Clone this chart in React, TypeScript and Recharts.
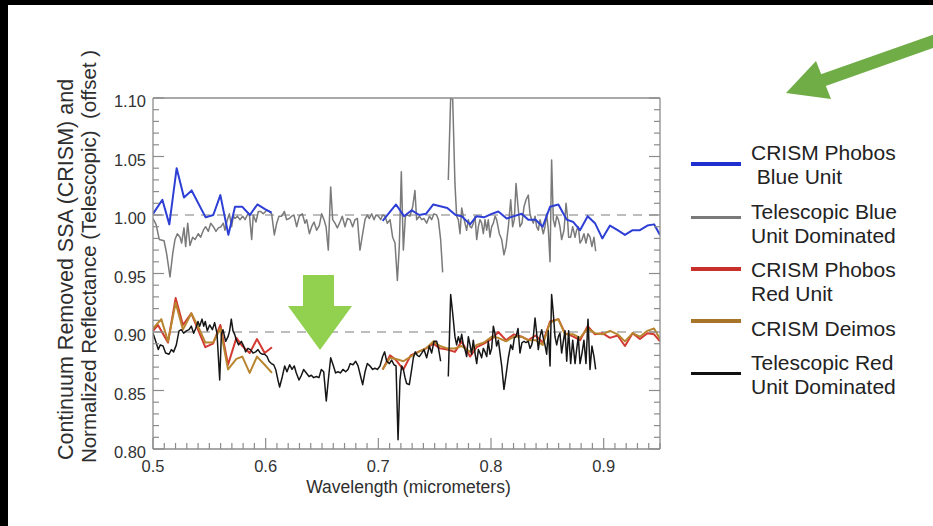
import { Line, LineChart, ReferenceLine, XAxis, YAxis } from "recharts";

const FONT = '"Liberation Sans", Arial, Helvetica, sans-serif';
const AXIS = "#8c8c8c";

type Pt = [number, number | null];

// CRISM Phobos blue unit (two spectral segments)
const crismBlue: Pt[] = [
  [0.5, 1.001], [0.5083, 1.013], [0.5145, 0.992], [0.521, 1.04], [0.5275, 1.015], [0.5343, 1.021],
  [0.5467, 0.998], [0.5535, 1.0], [0.5598, 1.017], [0.5669, 0.983], [0.5728, 1.007], [0.5793, 1.007],
  [0.586, 1.0], [0.5926, 1.009], [0.5994, 1.005], [0.6053, 1.002],
  [0.65, null],
  [0.7038, 0.995], [0.7157, 1.009], [0.7228, 0.999], [0.7296, 1.004], [0.7364, 1.0], [0.7423, 1.001],
  [0.7488, 1.009], [0.7612, 1.006], [0.7686, 1.0], [0.774, 0.999], [0.7814, 0.992], [0.7873, 0.999],
  [0.7938, 0.998], [0.8006, 1.001], [0.8065, 1.003], [0.8139, 0.997], [0.8204, 0.999], [0.8272, 1.001],
  [0.8331, 0.996], [0.8396, 0.996], [0.8459, 0.99], [0.8524, 1.007], [0.8598, 1.009], [0.8672, 0.996],
  [0.8731, 0.994], [0.879, 0.987], [0.8858, 0.999], [0.8923, 0.993], [0.8988, 0.98], [0.9056, 0.991],
  [0.9124, 0.987], [0.9189, 0.983], [0.9257, 0.987], [0.9322, 0.987], [0.9388, 0.991], [0.9447, 0.992],
  [0.95, 0.983],
];

// Telescopic blue unit dominated
const teleBlue: Pt[] = [
  [0.5, 0.997], [0.5027, 0.992], [0.5056, 0.979], [0.5098, 0.978], [0.5121, 0.967], [0.5151, 0.947],
  [0.5175, 0.967], [0.5195, 0.979], [0.5216, 0.984], [0.524, 0.981], [0.5254, 0.976], [0.5275, 0.989],
  [0.529, 0.973], [0.5308, 0.993], [0.5328, 0.974], [0.5352, 0.981], [0.5373, 0.979], [0.5402, 0.984],
  [0.5423, 0.981], [0.5447, 0.987], [0.5467, 0.99], [0.5491, 0.986], [0.5512, 0.993], [0.5536, 0.99],
  [0.5559, 0.986], [0.558, 0.989], [0.5604, 0.99], [0.5624, 0.993], [0.5639, 0.987], [0.566, 0.996],
  [0.5678, 1.001], [0.5698, 0.99], [0.5713, 0.999], [0.5728, 0.997], [0.5749, 0.999], [0.5772, 0.996],
  [0.5796, 0.999], [0.5817, 0.996], [0.5837, 1.0], [0.5855, 1.001], [0.5876, 0.979], [0.589, 1.0],
  [0.5914, 0.994], [0.5935, 1.003], [0.5956, 1.003], [0.5979, 1.001], [0.6009, 1.004], [0.6033, 1.003],
  [0.6053, 1.001], [0.6077, 0.983], [0.6098, 0.993], [0.6118, 0.999], [0.6142, 0.999], [0.6166, 1.003],
  [0.6186, 0.996], [0.621, 0.997], [0.6231, 0.999], [0.6251, 1.0], [0.6275, 0.99], [0.6299, 0.999],
  [0.6325, 1.001], [0.6349, 0.993], [0.6364, 0.996], [0.6388, 0.984], [0.6408, 0.99], [0.6429, 0.994],
  [0.6453, 0.987], [0.6476, 0.991], [0.6497, 1.001], [0.6518, 0.996], [0.6536, 0.99], [0.6556, 0.97],
  [0.6577, 1.024], [0.6595, 0.996], [0.6615, 0.993], [0.6636, 0.989], [0.666, 0.994], [0.668, 0.999],
  [0.6704, 0.99], [0.6725, 0.997], [0.6749, 0.996], [0.6772, 0.99], [0.6793, 0.996], [0.6814, 0.997],
  [0.6837, 0.97], [0.6861, 0.984], [0.6882, 0.996], [0.6902, 1.0], [0.692, 0.997], [0.6941, 1.001],
  [0.6962, 0.996], [0.6979, 1.0], [0.7, 0.999], [0.7021, 0.996], [0.7038, 1.0], [0.7059, 0.999],
  [0.708, 0.993], [0.7104, 0.996], [0.7127, 0.981], [0.7148, 0.976], [0.7169, 0.944], [0.7186, 0.973],
  [0.7204, 1.037], [0.7222, 0.97], [0.724, 0.999], [0.7257, 1.0], [0.7281, 0.999], [0.7305, 1.007],
  [0.7325, 1.021], [0.734, 0.996], [0.7364, 0.999], [0.7385, 0.996], [0.7405, 0.997], [0.7429, 0.993],
  [0.7453, 0.999], [0.7473, 0.996], [0.7494, 1.001], [0.7518, 1.0], [0.7533, 0.996], [0.7553, 0.979],
  [0.7571, 0.951],
  [0.76, null],
  [0.7621, 1.03], [0.7642, 1.1], [0.766, 1.099], [0.768, 1.027], [0.7695, 0.999], [0.771, 0.996],
  [0.7725, 0.984], [0.774, 1.006], [0.7754, 0.999], [0.7769, 0.993], [0.7784, 0.987], [0.7799, 0.996],
  [0.7814, 0.99], [0.7828, 0.989], [0.7843, 0.993], [0.7858, 0.999], [0.7873, 0.979], [0.7888, 0.99],
  [0.7902, 0.996], [0.7917, 0.993], [0.7932, 0.984], [0.7947, 0.996], [0.7962, 0.987], [0.7976, 0.996],
  [0.7991, 0.981], [0.8006, 0.99], [0.8021, 0.993], [0.8036, 0.999], [0.805, 0.996], [0.8074, 0.984],
  [0.8095, 0.979], [0.8115, 0.966], [0.8133, 0.973], [0.8154, 0.99], [0.8175, 1.013], [0.8192, 0.99],
  [0.8207, 0.996], [0.8222, 1.027], [0.824, 1.007], [0.8257, 0.99], [0.8275, 0.993], [0.8293, 1.007],
  [0.8311, 1.013], [0.8331, 1.017], [0.8346, 1.001], [0.8361, 0.996], [0.8376, 0.993], [0.8391, 0.999],
  [0.8405, 0.99], [0.842, 0.987], [0.8435, 0.996], [0.845, 0.99], [0.8464, 0.984], [0.8479, 0.99],
  [0.8494, 1.001], [0.8509, 0.987], [0.8524, 0.96], [0.8538, 1.047], [0.8553, 0.996], [0.8568, 0.99],
  [0.8583, 0.999], [0.8598, 0.996], [0.8612, 0.99], [0.8627, 0.979], [0.8648, 0.987], [0.8666, 1.01],
  [0.8678, 0.999], [0.8689, 0.981], [0.8707, 0.981], [0.8725, 0.99], [0.8746, 0.981], [0.876, 0.987],
  [0.8775, 0.99], [0.879, 0.976], [0.8808, 0.979], [0.8825, 0.984], [0.8843, 0.976], [0.8861, 0.984],
  [0.8879, 0.981], [0.8896, 0.973], [0.8914, 0.981], [0.8929, 0.969],
];

// CRISM Phobos red unit
const crismRed: Pt[] = [
  [0.5, 0.901], [0.5044, 0.906], [0.5133, 0.891], [0.5201, 0.929], [0.5266, 0.906], [0.534, 0.916],
  [0.5464, 0.887], [0.5533, 0.89], [0.5598, 0.906], [0.5666, 0.872], [0.574, 0.895], [0.5793, 0.888],
  [0.5858, 0.882], [0.5923, 0.894], [0.5991, 0.882], [0.6056, 0.887],
  [0.65, null],
  [0.7038, 0.868], [0.7104, 0.88], [0.7157, 0.876], [0.7222, 0.868], [0.7287, 0.88], [0.7355, 0.883],
  [0.7423, 0.886], [0.7488, 0.89], [0.7547, 0.886], [0.7612, 0.885], [0.768, 0.883], [0.774, 0.892],
  [0.7814, 0.879], [0.7873, 0.887], [0.7938, 0.89], [0.8006, 0.894], [0.8065, 0.9], [0.8133, 0.893],
  [0.8204, 0.898], [0.8272, 0.896], [0.8331, 0.893], [0.8396, 0.897], [0.8459, 0.891], [0.8524, 0.909],
  [0.8598, 0.911], [0.8657, 0.899], [0.8731, 0.896], [0.879, 0.893], [0.8858, 0.905], [0.8923, 0.898],
  [0.8988, 0.899], [0.9056, 0.895], [0.9124, 0.897], [0.9189, 0.888], [0.9257, 0.899], [0.9322, 0.894],
  [0.9388, 0.899], [0.9447, 0.898], [0.95, 0.892],
];

// CRISM Deimos
const crismDeimos: Pt[] = [
  [0.5, 0.903], [0.5074, 0.911], [0.5133, 0.892], [0.5201, 0.925], [0.5266, 0.902], [0.534, 0.916],
  [0.5408, 0.903], [0.5464, 0.891], [0.5533, 0.891], [0.5598, 0.903], [0.5666, 0.868], [0.574, 0.877],
  [0.5793, 0.879], [0.5858, 0.865], [0.5923, 0.879], [0.5991, 0.872], [0.6056, 0.865],
  [0.65, null],
  [0.7038, 0.868], [0.7104, 0.878], [0.7157, 0.877], [0.7222, 0.875], [0.7287, 0.879], [0.7355, 0.883],
  [0.7423, 0.886], [0.7488, 0.892], [0.7547, 0.888], [0.7612, 0.886], [0.768, 0.886], [0.774, 0.888],
  [0.7814, 0.883], [0.7873, 0.889], [0.7938, 0.891], [0.8006, 0.896], [0.8065, 0.895], [0.8133, 0.892],
  [0.8204, 0.896], [0.8272, 0.896], [0.8331, 0.893], [0.8396, 0.893], [0.8459, 0.889], [0.8524, 0.908],
  [0.8598, 0.911], [0.8657, 0.898], [0.8731, 0.898], [0.879, 0.895], [0.8858, 0.903], [0.8923, 0.899],
  [0.8988, 0.898], [0.9056, 0.901], [0.9124, 0.898], [0.9189, 0.892], [0.9257, 0.899], [0.9322, 0.896],
  [0.9388, 0.901], [0.9447, 0.903], [0.95, 0.894],
];

// Telescopic red unit dominated
const teleRed: Pt[] = [
  [0.5, 0.899], [0.5024, 0.892], [0.5047, 0.885], [0.5065, 0.889], [0.5089, 0.888], [0.5112, 0.882],
  [0.5142, 0.881], [0.5163, 0.885], [0.5183, 0.883], [0.5207, 0.889], [0.5231, 0.901], [0.5251, 0.902],
  [0.5272, 0.899], [0.5296, 0.901], [0.532, 0.902], [0.534, 0.905], [0.5361, 0.899], [0.5379, 0.903],
  [0.5399, 0.909], [0.5414, 0.905], [0.5435, 0.911], [0.545, 0.905], [0.5464, 0.909], [0.5482, 0.901],
  [0.5503, 0.906], [0.5527, 0.902], [0.5547, 0.908], [0.5568, 0.899], [0.5592, 0.859], [0.5607, 0.898],
  [0.5621, 0.902], [0.5645, 0.892], [0.5666, 0.896], [0.568, 0.901], [0.5695, 0.911], [0.571, 0.901],
  [0.5725, 0.898], [0.574, 0.893], [0.576, 0.889], [0.5784, 0.892], [0.5805, 0.888], [0.5822, 0.883],
  [0.5843, 0.886], [0.5864, 0.885], [0.5888, 0.882], [0.5911, 0.883], [0.5932, 0.885], [0.5953, 0.882],
  [0.597, 0.881], [0.5991, 0.881], [0.6012, 0.879], [0.603, 0.875], [0.605, 0.873], [0.6071, 0.872],
  [0.6089, 0.868], [0.6109, 0.859], [0.6124, 0.853], [0.6148, 0.862], [0.6169, 0.871], [0.6189, 0.866],
  [0.6213, 0.872], [0.6234, 0.868], [0.6254, 0.871], [0.6272, 0.865], [0.6296, 0.859], [0.6317, 0.863],
  [0.6337, 0.868], [0.6361, 0.865], [0.6385, 0.862], [0.6405, 0.863], [0.6426, 0.861], [0.645, 0.862],
  [0.6473, 0.861], [0.6494, 0.868], [0.6515, 0.866], [0.6538, 0.841], [0.6556, 0.859], [0.6577, 0.878],
  [0.6598, 0.872], [0.6621, 0.865], [0.6642, 0.866], [0.6663, 0.865], [0.6686, 0.868], [0.671, 0.866],
  [0.6731, 0.868], [0.6751, 0.873], [0.6775, 0.872], [0.6799, 0.875], [0.682, 0.871], [0.6843, 0.862],
  [0.6861, 0.855], [0.6882, 0.866], [0.6902, 0.873], [0.6926, 0.871], [0.695, 0.868], [0.697, 0.869],
  [0.6991, 0.868], [0.7015, 0.871], [0.7038, 0.879], [0.7056, 0.883], [0.7074, 0.875], [0.7098, 0.873],
  [0.7118, 0.876], [0.7139, 0.872], [0.7157, 0.871], [0.7175, 0.808], [0.7192, 0.859], [0.7207, 0.871],
  [0.7222, 0.868], [0.7237, 0.861], [0.7251, 0.856], [0.7275, 0.855], [0.7296, 0.868], [0.7311, 0.878],
  [0.7328, 0.883], [0.7346, 0.88], [0.7364, 0.879], [0.7385, 0.882], [0.7405, 0.885], [0.7429, 0.878],
  [0.7453, 0.888], [0.7473, 0.882], [0.7494, 0.892], [0.7518, 0.892], [0.7536, 0.885], [0.7553, 0.875],
  [0.76, null],
  [0.7621, 0.862], [0.7642, 0.932], [0.766, 0.916], [0.768, 0.896], [0.7695, 0.889], [0.771, 0.896],
  [0.7725, 0.891], [0.774, 0.898], [0.7754, 0.889], [0.7769, 0.885], [0.7784, 0.879], [0.7799, 0.896],
  [0.7814, 0.889], [0.7828, 0.881], [0.7843, 0.893], [0.7858, 0.882], [0.7873, 0.873], [0.7888, 0.885],
  [0.7902, 0.882], [0.7917, 0.878], [0.7932, 0.886], [0.7947, 0.883], [0.7962, 0.879], [0.7976, 0.892],
  [0.7991, 0.881], [0.8006, 0.886], [0.8021, 0.905], [0.8036, 0.898], [0.805, 0.888], [0.8065, 0.893],
  [0.808, 0.882], [0.8095, 0.871], [0.8115, 0.851], [0.8133, 0.863], [0.8154, 0.878], [0.8175, 0.889],
  [0.8192, 0.885], [0.8207, 0.895], [0.8222, 0.896], [0.824, 0.903], [0.8257, 0.882], [0.8275, 0.891],
  [0.8293, 0.892], [0.8311, 0.891], [0.8331, 0.892], [0.8346, 0.886], [0.8361, 0.889], [0.8376, 0.896],
  [0.8391, 0.912], [0.8405, 0.899], [0.842, 0.885], [0.8435, 0.896], [0.845, 0.902], [0.8464, 0.895],
  [0.8479, 0.889], [0.8494, 0.881], [0.8509, 0.901], [0.8524, 0.871], [0.8538, 0.932], [0.8553, 0.916],
  [0.8568, 0.896], [0.8583, 0.889], [0.8598, 0.896], [0.8612, 0.899], [0.8627, 0.882], [0.8642, 0.892],
  [0.8657, 0.901], [0.8672, 0.875], [0.8689, 0.901], [0.8707, 0.873], [0.8725, 0.893], [0.8746, 0.873],
  [0.876, 0.885], [0.8775, 0.896], [0.879, 0.873], [0.8808, 0.882], [0.8825, 0.893], [0.8843, 0.873],
  [0.8861, 0.911], [0.8879, 0.868], [0.8896, 0.888], [0.8914, 0.879], [0.8929, 0.868],
];

// tick positions every 0.01, labelled at 0.1 (x) / 0.05 (y)
const xTicks = Array.from({ length: 46 }, (_, i) => +(0.5 + i * 0.01).toFixed(2));
const yTicks = Array.from({ length: 31 }, (_, i) => +(0.8 + i * 0.01).toFixed(2));
const offsetLevels = [1.0, 0.9];

const rows = (pts: Pt[]) => pts.map(([w, v]) => ({ w, v }));
const isMajor = (v: number, step: number) => Math.abs(v / step - Math.round(v / step)) < 1e-6;

// drawn back to front
const drawOrder = [
  { key: "teleBlue", data: teleBlue, color: "#7a7a7a", width: 1.5 },
  { key: "crismBlue", data: crismBlue, color: "#2e3fd6", width: 2 },
  { key: "crismRed", data: crismRed, color: "#d23a32", width: 2 },
  { key: "crismDeimos", data: crismDeimos, color: "#b8862f", width: 2 },
  { key: "teleRed", data: teleRed, color: "#161616", width: 1.5 },
];

const legend = [
  { lines: ["CRISM Phobos", " Blue Unit"], textY: [153, 177], lineY: 164, color: "#1f2fd0", width: 4.5 },
  { lines: ["Telescopic Blue", "Unit Dominated"], textY: [212, 236], lineY: 217, color: "#7a7a7a", width: 3 },
  { lines: ["CRISM Phobos", "Red Unit"], textY: [270, 294], lineY: 269, color: "#c8302c", width: 4.5 },
  { lines: ["CRISM Deimos"], textY: [329], lineY: 321, color: "#a8742a", width: 4.5 },
  { lines: ["Telescopic Red", "Unit Dominated"], textY: [363, 387], lineY: 373, color: "#111111", width: 3 },
];

// tick renderers: x/y passed in sit on the frame because tickSize and tickMargin are 0
function BottomTick({ x, y, payload }: any) {
  const major = isMajor(payload.value, 0.1);
  return (
    <g>
      <line x1={x} x2={x} y1={y} y2={y - (major ? 11 : 6)} stroke={AXIS} strokeWidth={1.2} />
      {major && (
        <text x={x} y={y + 23} textAnchor="middle" fontSize={16.5} fill="#333" fontFamily={FONT}>
          {payload.value.toFixed(1)}
        </text>
      )}
    </g>
  );
}

function TopTick({ x, y, payload }: any) {
  const major = isMajor(payload.value, 0.1);
  return <line x1={x} x2={x} y1={y} y2={y + (major ? 11 : 6)} stroke={AXIS} strokeWidth={1.2} />;
}

function LeftTick({ x, y, payload }: any) {
  const major = isMajor(payload.value, 0.05);
  return (
    <g>
      <line x1={x} x2={x + (major ? 11 : 6)} y1={y} y2={y} stroke={AXIS} strokeWidth={1.2} />
      {major && (
        <text x={x - 7} y={y + 9} textAnchor="end" fontSize={16.5} fill="#333" fontFamily={FONT}>
          {payload.value.toFixed(2)}
        </text>
      )}
    </g>
  );
}

function RightTick({ x, y, payload }: any) {
  const major = isMajor(payload.value, 0.05);
  return <line x1={x} x2={x - (major ? 11 : 6)} y1={y} y2={y} stroke={AXIS} strokeWidth={1.2} />;
}

function YLabel(props: any) {
  const vb = props.viewBox || { x: 93, y: 98, width: 60, height: 351 };
  const left = vb.x + vb.width;
  const x1 = left - 87;
  const x2 = left - 65;
  const y1 = vb.y + vb.height / 2 - 4;
  const y2 = vb.y + vb.height / 2 - 17;
  return (
    <g fontFamily={FONT} fill="#2e2e2e">
      <text x={x1} y={y1} fontSize={21.5} transform={`rotate(-90 ${x1} ${y1})`} textAnchor="middle" dominantBaseline="central">
        Continuum Removed SSA (CRISM) and
      </text>
      <text x={x2} y={y2} fontSize={20.5} transform={`rotate(-90 ${x2} ${y2})`} textAnchor="middle" dominantBaseline="central" style={{ whiteSpace: "pre" }}>
        Normalized Reflectance (Telescopic)  (offset )
      </text>
    </g>
  );
}

function XLabel(props: any) {
  const vb = props.viewBox || { x: 153, y: 449, width: 507, height: 30 };
  return (
    <text x={vb.x + vb.width / 2 + 2} y={vb.y + 44} textAnchor="middle" fontSize={17.5} fill="#2e2e2e" fontFamily={FONT}>
      Wavelength (micrometers)
    </text>
  );
}

export default function App() {
  return (
    <div style={{ position: "absolute", left: 0, top: 0, width: 933, height: 526, background: "#fff", overflow: "hidden", fontFamily: FONT }}>
      <LineChart width={933} height={526} margin={{ top: 97, right: 272, bottom: 47, left: 93 }}>
        <XAxis
          xAxisId="b"
          type="number"
          dataKey="w"
          domain={[0.5, 0.95]}
          ticks={xTicks}
          interval={0}
          height={30}
          tickSize={0}
          tickMargin={0}
          tickLine={false}
          tick={<BottomTick />}
          stroke={AXIS}
          strokeWidth={1.3}
          allowDataOverflow
          label={{ content: XLabel }}
        />
        <XAxis xAxisId="t" orientation="top" type="number" domain={[0.5, 0.95]} ticks={xTicks} interval={0} height={1} tickSize={0} tickMargin={0} tickLine={false} tick={<TopTick />} stroke={AXIS} strokeWidth={1.3} allowDataOverflow />
        <YAxis
          yAxisId="l"
          type="number"
          domain={[0.8, 1.1]}
          ticks={yTicks}
          interval={0}
          width={60}
          tickSize={0}
          tickMargin={0}
          tickLine={false}
          tick={<LeftTick />}
          stroke={AXIS}
          strokeWidth={1.3}
          allowDataOverflow
          label={{ content: YLabel }}
        />
        <YAxis yAxisId="r" orientation="right" type="number" domain={[0.8, 1.1]} ticks={yTicks} interval={0} width={1} tickSize={0} tickMargin={0} tickLine={false} tick={<RightTick />} stroke={AXIS} strokeWidth={1.3} allowDataOverflow />

        {offsetLevels.map((y) => (
          <ReferenceLine key={y} xAxisId="b" yAxisId="l" y={y} stroke="#a8a8a8" strokeWidth={1.5} strokeDasharray="9 7" />
        ))}

        {drawOrder.map((s) => (
          <Line
            key={s.key}
            xAxisId="b"
            yAxisId="l"
            data={rows(s.data)}
            dataKey="v"
            type="linear"
            stroke={s.color}
            strokeWidth={s.width}
            strokeLinejoin="round"
            dot={false}
            activeDot={false}
            connectNulls={false}
            isAnimationActive={false}
          />
        ))}
      </LineChart>

      {/* legend */}
      {legend.map((item, i) => (
        <div key={i}>
          <div style={{ position: "absolute", left: 691, width: 50, top: item.lineY - item.width / 2, height: item.width, background: item.color }} />
          {item.lines.map((t, j) => (
            <div key={j} style={{ position: "absolute", left: 751, top: item.textY[j] - 12, height: 24, lineHeight: "24px", fontSize: 21, color: "#222", whiteSpace: "pre" }}>
              {t}
            </div>
          ))}
        </div>
      ))}

      {/* green annotation arrows */}
      <svg width={933} height={526} style={{ position: "absolute", left: 0, top: 0, pointerEvents: "none" }}>
        <line x1={940} y1={39} x2={818} y2={82} stroke="#70ad47" strokeWidth={12.5} />
        <polygon points="786,93 816,61 831,99" fill="#70ad47" />
        <polygon points="303,275 334,275 334,306 352,306 320,350 288,306 303,306" fill="#92d050" />
      </svg>

      {/* black frame edges of the screenshot */}
      <div style={{ position: "absolute", left: 0, top: 0, width: 933, height: 5, background: "#000" }} />
      <div style={{ position: "absolute", left: 0, top: 0, width: 8, height: 526, background: "#000" }} />
    </div>
  );
}
